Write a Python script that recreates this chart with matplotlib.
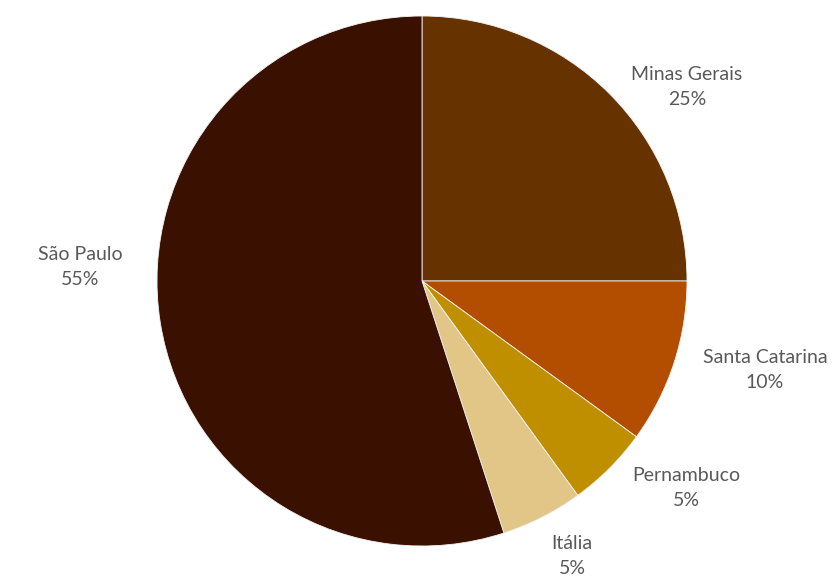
import matplotlib
matplotlib.use("Agg")
import matplotlib.pyplot as plt
import numpy as np

categories = ["Minas Gerais", "Santa Catarina", "Pernambuco", "Itália", "São Paulo"]
values = [25, 10, 5, 5, 55]
colors = ["#663300", "#B34D00", "#BF8F00", "#E2C687", "#3A1100"]

# label placement (radius factor, angle offset in degrees) per slice
label_layout = [(1.239, -8.8), (1.337, 3.5), (1.266, 6.9), (1.182, 1.6), (1.292, -11.3)]

fig = plt.figure(figsize=(8.33, 5.76), dpi=100)
ax = fig.add_axes([0, 0, 1, 1])

cx, cy, r = 422, 295, 265
wedges, _ = ax.pie(values, colors=colors, startangle=90, counterclock=False,
                   center=(cx, cy), radius=r, frame=True,
                   wedgeprops=dict(edgecolor="#f2f2f2", linewidth=0.6))
ax.set_xlim(0, 833)
ax.set_ylim(0, 576)
ax.set_aspect("equal")
ax.axis("off")

total = sum(values)
for w, cat, v, (f, off) in zip(wedges, categories, values, label_layout):
    mid = np.deg2rad((w.theta1 + w.theta2) / 2 + off)
    x = cx + f * r * np.cos(mid)
    y = cy + f * r * np.sin(mid)
    ax.text(x, y, f"{cat}\n{round(100 * v / total)}%", ha="center", va="center",
            fontsize=14, color="#595959", family="Lato", linespacing=1.6)

fig.savefig("out.png", dpi=100)
